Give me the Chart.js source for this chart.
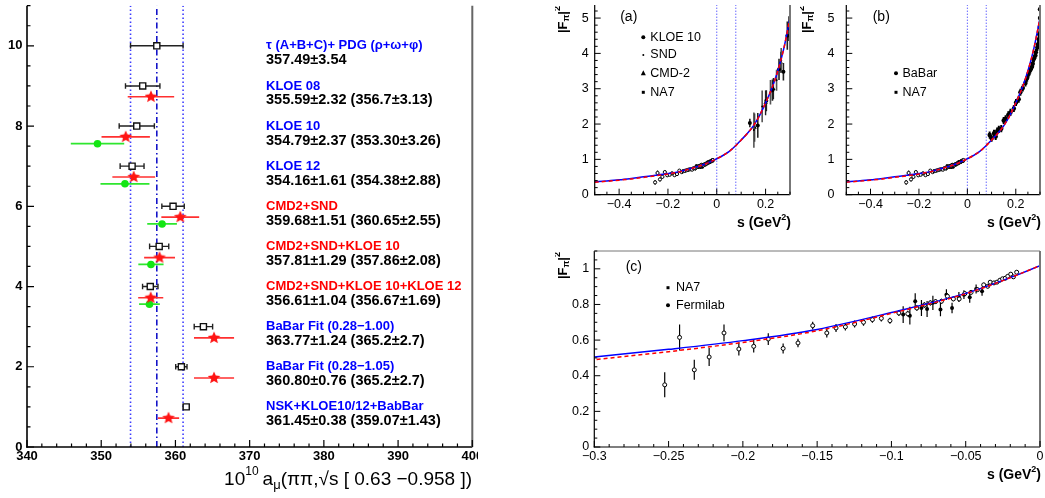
<!DOCTYPE html>
<html>
<head>
<meta charset="utf-8">
<script src="https://cdn.jsdelivr.net/npm/chart.js@4.4.1/dist/chart.umd.min.js"></script>
<style>
  body { margin: 0; background: #fff; }
  .box { position: absolute; }
</style>
</head>
<body>
<div class="box" style="left:0;top:0;width:478px;height:498px"><canvas id="chartL"></canvas></div>
<div class="box" style="left:555px;top:0;width:240px;height:232px"><canvas id="chartA"></canvas></div>
<div class="box" style="left:800px;top:0;width:245px;height:232px"><canvas id="chartB"></canvas></div>
<div class="box" style="left:555px;top:236px;width:490px;height:262px"><canvas id="chartC"></canvas></div>
<script>
const FONT = "'Liberation Sans', Arial, Helvetica, sans-serif";

// left panel: a_mu(pipi) in [0.63, 0.958]
const rowNames = ['τ (A+B+C)+ PDG (ρ+ω+φ)', 'KLOE 08', 'KLOE 10', 'KLOE 12', 'CMD2+SND',
  'CMD2+SND+KLOE 10', 'CMD2+SND+KLOE 10+KLOE 12', 'BaBar Fit (0.28−1.00)', 'BaBar Fit (0.28−1.05)',
  'NSK+KLOE10/12+BabBar'];
const rowColors = ['#0000ff', '#0000ff', '#0000ff', '#0000ff', '#ff0000', '#ff0000', '#ff0000',
  '#0000ff', '#0000ff', '#0000ff'];
const rowValues = ['357.49±3.54', '355.59±2.32 (356.7±3.13)', '354.79±2.37 (353.30±3.26)',
  '354.16±1.61 (354.38±2.88)', '359.68±1.51 (360.65±2.55)', '357.81±1.29 (357.86±2.08)',
  '356.61±1.04 (356.67±1.69)', '363.77±1.24 (365.2±2.7)', '360.80±0.76 (365.2±2.7)',
  '361.45±0.38 (359.07±1.43)'];
const rowY = [10, 9, 8, 7, 6, 5, 4, 3, 2, 1];
const fitMean = [357.49, 355.59, 354.79, 354.16, 359.68, 357.81, 356.61, 363.77, 360.80, 361.45];
const fitErr = [3.54, 2.32, 2.37, 1.61, 1.51, 1.29, 1.04, 1.24, 0.76, 0.38];
const starY = [8.73, 7.73, 6.73, 5.73, 4.72, 3.72, 2.72, 1.72, 0.72];
const starMean = [356.7, 353.30, 354.38, 360.65, 357.86, 356.67, 365.2, 365.2, 359.07];
const starErr = [3.13, 3.26, 2.88, 2.55, 2.08, 1.69, 2.7, 2.7, 1.43];
const greenY = [7.56, 6.56, 5.56, 4.55, 3.56];
const greenMean = [349.5, 353.2, 358.2, 356.7, 356.5];
const greenErr = [3.6, 3.3, 2.0, 1.7, 1.4];
const amuTicks = [340, 350, 360, 370, 380, 390, 400];
const rowTicks = [0, 2, 4, 6, 8, 10];

// right panels: |F_pi|^2 vs s
const curveS = [-0.5, -0.45, -0.4, -0.35, -0.3, -0.25, -0.2, -0.15, -0.1, -0.05, -0.025, 0,
  0.025, 0.05, 0.075, 0.1, 0.125, 0.15, 0.175, 0.2, 0.225, 0.25, 0.275, 0.3];
const blueF = [0.365, 0.39, 0.42, 0.46, 0.505, 0.548, 0.597, 0.66, 0.755, 0.862, 0.935, 1.018,
  1.11, 1.22, 1.37, 1.55, 1.73, 1.95, 2.24, 2.6, 3.0, 3.5, 4.15, 5.0];
const redF = [0.355, 0.38, 0.41, 0.447, 0.49, 0.535, 0.587, 0.652, 0.75, 0.86, 0.934, 1.018,
  1.11, 1.22, 1.37, 1.55, 1.73, 1.95, 2.24, 2.6, 3.0, 3.5, 4.15, 5.0];
const thresholdS = [0, 0.078];

const na7S = [-0.2526, -0.2426, -0.2327, -0.2227, -0.2127, -0.2027, -0.1927, -0.1829, -0.1729, -0.1629,
  -0.153, -0.1435, -0.1373, -0.131, -0.1248, -0.1188, -0.1128, -0.1068, -0.101, -0.095, -0.089,
  -0.0829, -0.0778, -0.0738, -0.0703, -0.0663, -0.0623, -0.0583, -0.0544, -0.0506, -0.0464,
  -0.0421, -0.0379, -0.0352, -0.0335, -0.031, -0.029, -0.027, -0.0252, -0.0234, -0.0217,
  -0.0197, -0.0179, -0.0157];
const na7F = [0.349, 0.615, 0.433, 0.505, 0.64, 0.55, 0.565, 0.606, 0.553, 0.584,
  0.681, 0.64, 0.668, 0.674, 0.69, 0.70, 0.715, 0.722, 0.709, 0.752, 0.748,
  0.78, 0.797, 0.809, 0.816, 0.818, 0.846, 0.831, 0.831, 0.861, 0.868,
  0.883, 0.91, 0.902, 0.925, 0.921, 0.925, 0.936, 0.944, 0.947, 0.958,
  0.97, 0.955, 0.981];
const na7Err = [0.07, 0.073, 0.056, 0.05, 0.047, 0.037, 0.035, 0.033, 0.028, 0.024,
  0.022, 0.025, 0.022, 0.02, 0.02, 0.019, 0.018, 0.018, 0.017, 0.017, 0.016,
  0.016, 0.015, 0.015, 0.014, 0.014, 0.014, 0.013, 0.013, 0.013, 0.012,
  0.012, 0.012, 0.011, 0.011, 0.011, 0.01, 0.01, 0.01, 0.01, 0.009,
  0.009, 0.009, 0.009];
const fnalS = [-0.0921, -0.0876, -0.084, -0.0798, -0.076, -0.0721, -0.067, -0.063, -0.0592,
  -0.0546, -0.0512, -0.0473, -0.043, -0.039];
const fnalF = [0.743, 0.737, 0.818, 0.78, 0.775, 0.809, 0.771, 0.855, 0.78, 0.842, 0.855,
  0.84, 0.887, 0.874];
const fnalErr = [0.047, 0.05, 0.045, 0.045, 0.045, 0.04, 0.037, 0.03, 0.03, 0.028, 0.025,
  0.03, 0.025, 0.025];

const kloeS = [0.1356, 0.168, 0.203, 0.228, 0.255, 0.273, 0.289, 0.296];
const kloeF = [2.03, 1.96, 2.66, 2.96, 3.55, 3.48, 4.5, 4.7];
const kloeErr = [0.12, 0.35, 0.3, 0.3, 0.3, 0.25, 0.4, 0.35];
const sndS = [0.152, 0.186, 0.22, 0.245, 0.264, 0.3];
const sndF = [1.83, 2.5, 2.9, 3.24, 3.8, 4.9];
const sndErr = [0.5, 0.45, 0.35, 0.3, 0.35, 0.4];
const cmdS = [0.155, 0.2, 0.232, 0.262];
const cmdF = [1.9, 2.6, 3.0, 3.75];
const cmdErr = [0.4, 0.35, 0.3, 0.3];

const babarS = [0.092, 0.100, 0.110, 0.117, 0.123, 0.130, 0.140, 0.150, 0.158, 0.169, 0.178,
  0.192, 0.201, 0.212, 0.219, 0.229, 0.240, 0.247, 0.253, 0.260, 0.267, 0.270, 0.275, 0.281,
  0.283, 0.289, 0.292, 0.295, 0.297, 0.299, 0.300, 0.300];
const babarF = [1.69, 1.60, 1.74, 1.65, 1.80, 1.85, 1.87, 2.10, 2.15, 2.26, 2.33,
  2.44, 2.61, 2.70, 2.90, 3.02, 3.16, 3.30, 3.42, 3.53, 3.62, 3.71, 3.85, 3.94,
  4.03, 4.17, 4.26, 4.40, 4.54, 4.75, 5.0, 5.25];

const sTicksAB = [-0.4, -0.2, 0, 0.2];
const fTicksAB = [0, 1, 2, 3, 4, 5];
const sTicksC = [-0.3, -0.25, -0.2, -0.15, -0.1, -0.05, 0];
const fTicksC = [0, 0.2, 0.4, 0.6, 0.8, 1];

// helpers
const pts = (xs, ys) => xs.map((v, i) => ({ x: v, y: ys[i] }));
const vline = (v, y0, y1) => [{ x: v, y: y0 }, { x: v, y: y1 }];
const fmtNum = v => (v < 0 ? '−' + Math.abs(v) : String(v));

function starImage(r, color) {
  const c = document.createElement('canvas');
  const s = Math.ceil(2 * r + 2);
  c.width = c.height = s;
  const g = c.getContext('2d');
  g.fillStyle = color;
  g.beginPath();
  for (let i = 0; i < 10; i++) {
    const rad = i % 2 ? r * 0.45 : r;
    const ang = -Math.PI / 2 + i * Math.PI / 5;
    g.lineTo(s / 2 + rad * Math.cos(ang), s / 2 + rad * Math.sin(ang));
  }
  g.closePath();
  g.fill();
  return c;
}

function drawRich(ctx, parts, x, y, align) {
  let w = 0;
  parts.forEach(p => { ctx.font = p.f; p.w = ctx.measureText(p.t).width; w += p.w + (p.gap || 0); });
  let cx = align === 'right' ? x - w : x;
  parts.forEach(p => {
    ctx.font = p.f;
    ctx.fillText(p.t, cx, y + (p.dy || 0));
    cx += p.w + (p.gap || 0);
  });
}

function marker(ctx, style, x, y, r) {
  ctx.beginPath();
  if (style === 'rect') ctx.rect(x - r, y - r, 2 * r, 2 * r);
  else if (style === 'triangle') {
    ctx.moveTo(x, y - r * 1.2); ctx.lineTo(x + r, y + r * 0.8); ctx.lineTo(x - r, y + r * 0.8); ctx.closePath();
  } else ctx.arc(x, y, r, 0, 2 * Math.PI);
  ctx.fill();
}

function axis(min, max, ticks, size, pad, font, horizontal) {
  return {
    type: 'linear', min, max,
    grid: { display: false, drawTicks: false },
    border: { display: false },
    afterBuildTicks: s => { s.ticks = ticks.map(v => ({ value: v })); },
    afterFit: s => {
      if (horizontal) { s.height = size; s.paddingLeft = 0; s.paddingRight = 0; }
      else { s.width = size; s.paddingTop = 0; s.paddingBottom = 0; }
    },
    ticks: { autoSkip: false, maxRotation: 0, padding: pad, color: '#000', font, callback: fmtNum }
  };
}

// error bars, drawn just below each dataset's points
const errorBars = {
  id: 'errorBars',
  beforeDatasetDraw(chart, args) {
    const ds = chart.data.datasets[args.index];
    if (!ds.errX && !ds.errY) return;
    const { ctx, chartArea: a } = chart;
    const xs = chart.scales.x, ys = chart.scales.y;
    ctx.save();
    ctx.beginPath();
    ctx.rect(a.left, a.top, a.right - a.left, a.bottom - a.top);
    ctx.clip();
    ctx.strokeStyle = ds.errColor;
    ctx.lineWidth = ds.errWidth || 1;
    ctx.beginPath();
    ds.data.forEach((p, i) => {
      const px = xs.getPixelForValue(p.x), py = ys.getPixelForValue(p.y);
      if (ds.errX) {
        const x0 = xs.getPixelForValue(p.x - ds.errX[i]), x1 = xs.getPixelForValue(p.x + ds.errX[i]);
        ctx.moveTo(x0, py); ctx.lineTo(x1, py);
        if (ds.cap) {
          ctx.moveTo(x0, py - ds.cap); ctx.lineTo(x0, py + ds.cap);
          ctx.moveTo(x1, py - ds.cap); ctx.lineTo(x1, py + ds.cap);
        }
      }
      if (ds.errY) {
        const e = Array.isArray(ds.errY) ? ds.errY[i] : ds.errY;
        ctx.moveTo(px, ys.getPixelForValue(p.y - e)); ctx.lineTo(px, ys.getPixelForValue(p.y + e));
      }
      if (ds.errS) {
        ctx.moveTo(xs.getPixelForValue(p.x - ds.errS), py); ctx.lineTo(xs.getPixelForValue(p.x + ds.errS), py);
      }
    });
    ctx.stroke();
    ctx.restore();
  }
};

// ROOT-like frame with inward ticks
const frame = {
  id: 'frame',
  afterDraw(chart, args, o) {
    const { ctx, chartArea: a } = chart;
    const xs = chart.scales.x, ys = chart.scales.y;
    ctx.save();
    o.sides.forEach(([side, color, w]) => {
      ctx.strokeStyle = color; ctx.lineWidth = w;
      ctx.beginPath();
      if (side === 'left') { ctx.moveTo(a.left, a.top); ctx.lineTo(a.left, a.bottom + w / 2); }
      if (side === 'bottom') { ctx.moveTo(a.left - w / 2, a.bottom); ctx.lineTo(a.right, a.bottom); }
      if (side === 'right') { ctx.moveTo(a.right, a.top); ctx.lineTo(a.right, a.bottom); }
      if (side === 'top') { ctx.moveTo(a.left, a.top); ctx.lineTo(a.right, a.top); }
      ctx.stroke();
    });
    ctx.strokeStyle = o.tickColor; ctx.lineWidth = o.tickWidth;
    ctx.beginPath();
    const isMajor = (v, m) => Math.abs(v / m - Math.round(v / m)) < 1e-6;
    const nx = Math.round((xs.max - xs.min) / o.x[0]);
    for (let i = 0; i <= nx; i++) {
      const v = xs.min + i * o.x[0];
      const len = isMajor(v, o.x[1]) ? o.len[1] : o.len[0];
      const px = xs.getPixelForValue(v);
      ctx.moveTo(px, a.bottom); ctx.lineTo(px, a.bottom - len);
    }
    const ny = Math.floor((ys.max - ys.min) / o.y[0] + 1e-6);
    for (let i = 0; i <= ny; i++) {
      const v = ys.min + i * o.y[0];
      const len = isMajor(v, o.y[1]) ? o.len[1] : o.len[0];
      const py = ys.getPixelForValue(v);
      ctx.moveTo(a.left, py); ctx.lineTo(a.left + len, py);
    }
    ctx.stroke();
    ctx.restore();
  }
};

Chart.register(errorBars, frame);

const base = {
  responsive: true, maintainAspectRatio: false, animation: false, events: [],
  plugins: { legend: { display: false }, tooltip: { enabled: false } }
};

// ---------- left panel ----------
const tauMean = fitMean[0], tauErr = fitErr[0];
const boldAxis = { family: FONT, size: 13, weight: 'bold' };

new Chart(document.getElementById('chartL'), {
  type: 'scatter',
  data: {
    datasets: [
      { data: vline(tauMean - tauErr, 0, 11), showLine: true, pointRadius: 0, borderColor: '#3c3cff',
        borderWidth: 1.6, borderDash: [1.5, 2.5], order: 9 },
      { data: vline(tauMean + tauErr, 0, 11), showLine: true, pointRadius: 0, borderColor: '#3c3cff',
        borderWidth: 1.6, borderDash: [1.5, 2.5], order: 9 },
      { data: vline(tauMean, 0, 11), showLine: true, pointRadius: 0, borderColor: '#1414c8',
        borderWidth: 1.6, borderDash: [6, 3, 1.5, 3], order: 8 },
      { data: pts(greenMean, greenY), pointStyle: 'circle', pointRadius: 3.8, backgroundColor: '#14e614',
        borderWidth: 0, errX: greenErr, errColor: '#2ee62e', errWidth: 1.7, order: 3 },
      { data: pts(starMean, starY), pointStyle: starImage(6.6, '#ff1414'), errX: starErr,
        errColor: '#ff3030', errWidth: 1.7, order: 2 },
      { data: pts(fitMean, rowY), pointStyle: 'rect', pointRadius: 4.3, backgroundColor: '#fff',
        borderColor: '#111', borderWidth: 1.4, errX: fitErr, cap: 2.8, errColor: '#222', errWidth: 1.4, order: 1 }
    ]
  },
  options: {
    ...base,
    layout: { padding: { top: 0, right: 3.5, bottom: 0, left: 0 } },
    scales: {
      x: axis(340, 400, amuTicks, 51, 2, boldAxis, true),
      y: axis(0, 11, rowTicks, 27, 4.5, boldAxis, false)
    },
    plugins: {
      ...base.plugins,
      frame: { sides: [['left', '#000', 1.6], ['bottom', '#000', 1.6], ['right', '#666', 2]],
        tickColor: '#000', tickWidth: 1.2, x: [2, 10], y: [0.5, 2], len: [3.5, 7] }
    }
  },
  plugins: [{
    id: 'rowText',
    afterDraw(chart) {
      const { ctx } = chart;
      const ys = chart.scales.y;
      ctx.save();
      ctx.textBaseline = 'middle';
      ctx.textAlign = 'left';
      rowNames.forEach((name, i) => {
        const py = ys.getPixelForValue(rowY[i]);
        ctx.fillStyle = rowColors[i];
        ctx.font = 'bold 13px ' + FONT;
        ctx.fillText(name, 266, py);
        ctx.fillStyle = '#000';
        ctx.font = 'bold 14.5px ' + FONT;
        ctx.fillText(rowValues[i], 266, py + 14.5);
      });
      ctx.fillStyle = '#000';
      const big = '19px ' + FONT, small = '12px ' + FONT;
      drawRich(ctx, [
        { t: '10', f: big },
        { t: '10', f: small, dy: -8, gap: 4 },
        { t: 'a', f: big },
        { t: 'μ', f: '13px ' + FONT, dy: 5 },
        { t: '(ππ,√s [ 0.63 −0.958 ])', f: big }
      ], 472, 480, 'right');
      ctx.restore();
    }
  }]
});

// ---------- right panels ----------
const thinAxis = { family: FONT, size: 12.5 };
const curveSets = () => [
  { data: pts(curveS, blueF), showLine: true, pointRadius: 0, borderColor: '#0000ff', borderWidth: 1.5,
    cubicInterpolationMode: 'monotone', order: 2 },
  { data: pts(curveS, redF), showLine: true, pointRadius: 0, borderColor: '#ff0000', borderWidth: 1.5,
    borderDash: [4, 3], cubicInterpolationMode: 'monotone', order: 1 }
];
const thresholdSets = () => thresholdS.map(v => ({
  data: vline(v, 0, 6), showLine: true, pointRadius: 0, borderColor: '#2222ff', borderWidth: 1,
  borderDash: [1, 2], order: 9
}));
const spacelikeSets = (r) => [
  { label: 'NA7', data: pts(na7S, na7F), pointStyle: 'circle', pointRadius: r, backgroundColor: '#fff',
    borderColor: '#000', borderWidth: 1, errY: na7Err, errColor: '#000', errWidth: 1.2, order: 4 },
  { label: 'Fermilab', data: pts(fnalS, fnalF), pointStyle: 'circle', pointRadius: r, backgroundColor: '#000',
    borderColor: '#000', borderWidth: 0, errY: fnalErr, errColor: '#000', errWidth: 1.2, order: 4 }
];

function panelDecor(id, tag, legend, titleY, labelX) {
  return {
    id,
    afterDraw(chart) {
      const { ctx, chartArea: a } = chart;
      ctx.save();
      ctx.fillStyle = '#000';
      ctx.textBaseline = 'middle';
      ctx.font = '14px ' + FONT;
      ctx.fillText(tag.text, a.left + tag.dx, a.top + tag.dy);
      legend.forEach(l => {
        marker(ctx, l.style, a.left + l.dx, a.top + l.dy, l.r);
        ctx.font = '12.5px ' + FONT;
        ctx.fillText(chart.data.datasets[l.ds].label, a.left + l.dx + l.gap, a.top + l.dy);
      });
      const b = 'bold 14px ' + FONT, sb = 'bold 9px ' + FONT;
      drawRich(ctx, [{ t: 's (GeV', f: b }, { t: '2', f: sb, dy: -5 }, { t: ')', f: b }],
        a.right + 1, titleY, 'right');
      ctx.translate(labelX, a.top + 1);
      ctx.rotate(-Math.PI / 2);
      const f = 'bold 13px ' + FONT, fs = 'bold 9px ' + FONT;
      drawRich(ctx, [{ t: '|F', f }, { t: 'π', f: fs, dy: 4 }, { t: '|', f }, { t: '2', f: fs, dy: -5 }],
        0, 0, 'right');
      ctx.restore();
    }
  };
}

// (a)
new Chart(document.getElementById('chartA'), {
  type: 'scatter',
  data: {
    datasets: [
      ...thresholdSets(),
      ...curveSets(),
      ...spacelikeSets(1.6),
      { label: 'KLOE 10', data: pts(kloeS, kloeF), pointStyle: 'circle', pointRadius: 2, backgroundColor: '#000',
        borderWidth: 0, errY: kloeErr, errColor: '#222', errWidth: 1.6, order: 3 },
      { label: 'SND', data: pts(sndS, sndF), pointStyle: 'circle', pointRadius: 1, backgroundColor: '#000',
        borderWidth: 0, errY: sndErr, errColor: '#555', errWidth: 1.6, order: 3 },
      { label: 'CMD-2', data: pts(cmdS, cmdF), pointStyle: 'triangle', pointRadius: 2.5, backgroundColor: '#000',
        borderWidth: 0, errY: cmdErr, errColor: '#222', errWidth: 1.4, order: 3 }
    ]
  },
  options: {
    ...base,
    layout: { padding: { top: 0, right: 4.5, bottom: 0, left: 0 } },
    scales: {
      x: axis(-0.5, 0.3, sTicksAB, 37.3, 2.8, thinAxis, true),
      y: axis(0, 5.37, fTicksAB, 39.7, 6, thinAxis, false)
    },
    plugins: {
      ...base.plugins,
      frame: { sides: [['left', '#000', 1.2], ['bottom', '#000', 1.2], ['right', '#777', 2]],
        tickColor: '#000', tickWidth: 1, x: [0.05, 0.2], y: [0.2, 1], len: [3, 6] }
    }
  },
  plugins: [panelDecor('decorA', { text: '(a)', dx: 25.5, dy: 11.7 }, [
    { ds: 6, style: 'circle', r: 2, dx: 48.6, dy: 32.3, gap: 7 },
    { ds: 7, style: 'circle', r: 1, dx: 48.6, dy: 50, gap: 7 },
    { ds: 8, style: 'triangle', r: 2.5, dx: 48.6, dy: 68.3, gap: 7 },
    { ds: 4, style: 'rect', r: 1.5, dx: 48.6, dy: 87.3, gap: 7 }
  ], 222.7, 8)]
});

// (b)
new Chart(document.getElementById('chartB'), {
  type: 'scatter',
  data: {
    datasets: [
      ...thresholdSets(),
      ...curveSets(),
      ...spacelikeSets(1.6),
      { label: 'BaBar', data: pts(babarS, babarF), pointStyle: 'circle', pointRadius: 2.2, backgroundColor: '#000',
        borderWidth: 0, errY: 0.1, errS: 0.006, errColor: '#000', errWidth: 2, order: 3 }
    ]
  },
  options: {
    ...base,
    layout: { padding: { top: 0, right: 2, bottom: 0, left: 0 } },
    scales: {
      x: axis(-0.5, 0.3, sTicksAB, 37.3, 2.8, thinAxis, true),
      y: axis(0, 5.37, fTicksAB, 46.3, 11.8, thinAxis, false)
    },
    plugins: {
      ...base.plugins,
      frame: { sides: [['left', '#000', 1.2], ['bottom', '#000', 1.2], ['right', '#777', 2]],
        tickColor: '#000', tickWidth: 1, x: [0.05, 0.2], y: [0.2, 1], len: [3, 6] }
    }
  },
  plugins: [panelDecor('decorB', { text: '(b)', dx: 26.4, dy: 11.7 }, [
    { ds: 6, style: 'circle', r: 2, dx: 49.7, dy: 68.3, gap: 6.5 },
    { ds: 4, style: 'rect', r: 1.5, dx: 49.7, dy: 87.3, gap: 6.5 }
  ], 222.7, 7)]
});

// (c)
new Chart(document.getElementById('chartC'), {
  type: 'scatter',
  data: {
    datasets: [
      ...curveSets(),
      ...spacelikeSets(2)
    ]
  },
  options: {
    ...base,
    layout: { padding: { top: 15, right: 2, bottom: 0, left: 0 } },
    scales: {
      x: axis(-0.3, 0, sTicksC, 51, 2.2, thinAxis, true),
      y: axis(0, 1.1, fTicksC, 39.3, 5, thinAxis, false)
    },
    plugins: {
      ...base.plugins,
      frame: { sides: [['left', '#000', 1.2], ['bottom', '#000', 1.2], ['right', '#777', 2], ['top', '#777', 1]],
        tickColor: '#000', tickWidth: 1, x: [0.01, 0.05], y: [0.05, 0.2], len: [3, 6] }
    }
  },
  plugins: [panelDecor('decorC', { text: '(c)', dx: 31.4, dy: 15.7 }, [
    { ds: 2, style: 'rect', r: 1.5, dx: 73.7, dy: 36.7, gap: 8 },
    { ds: 3, style: 'circle', r: 2, dx: 73.7, dy: 54.3, gap: 8 }
  ], 475 - 236, 8)]
});
</script>
</body>
</html>
